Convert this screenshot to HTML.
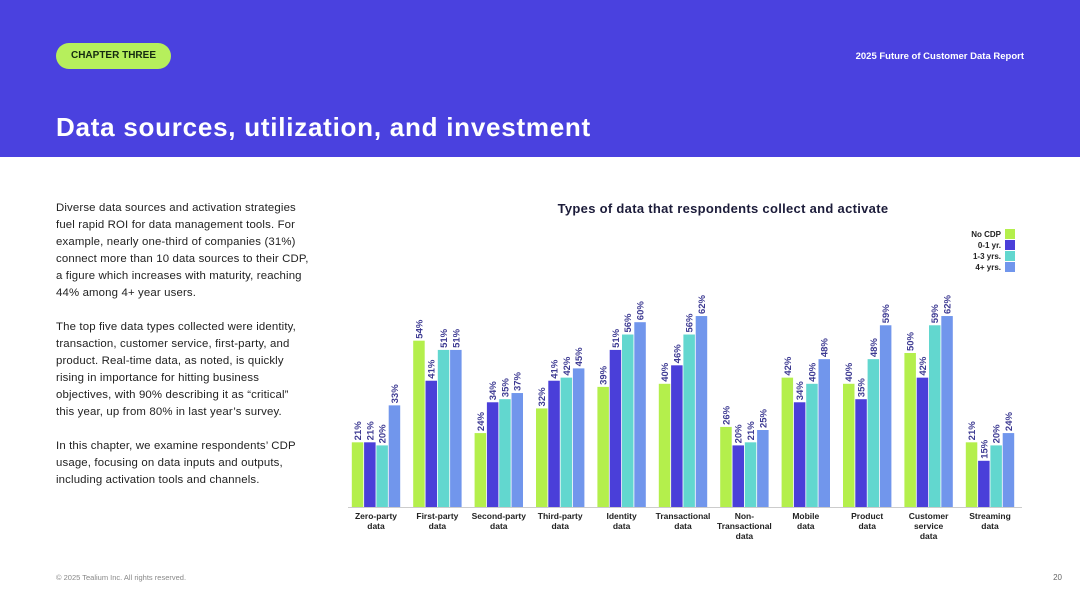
<!DOCTYPE html>
<html><head><meta charset="utf-8"><style>
body{margin:0;width:1080px;height:608px;background:#fff;font-family:"Liberation Sans",sans-serif;position:relative;overflow:hidden}
.hdr{position:absolute;left:0;top:0;width:1080px;height:157px;background:#4a41df}
.pill{position:absolute;left:56px;top:43px;width:115px;height:26px;border-radius:13px;background:#b6ef5c;color:#152b10;font-weight:bold;font-size:10px;line-height:26px;text-align:center}
.rep{position:absolute;right:56px;top:51px;color:#fff;font-weight:bold;font-size:9.5px}
h1{position:absolute;left:56px;top:112px;margin:0;color:#fff;font-size:26px;font-weight:bold;letter-spacing:0.75px;white-space:nowrap}
.body{position:absolute;left:56px;top:200px;width:300px;font-size:11.4px;line-height:17px;color:#222;white-space:nowrap;letter-spacing:0.15px}
.body p{margin:0 0 17px 0}
.foot{position:absolute;left:56px;top:573px;font-size:7.5px;color:#888}
.pg{position:absolute;right:18px;top:573px;font-size:8px;color:#666}
</style></head><body>
<div class="hdr"></div>
<div class="pill">CHAPTER THREE</div>
<div class="rep">2025 Future of Customer Data Report</div>
<h1>Data sources, utilization, and investment</h1>
<div class="body">
<p>Diverse data sources and activation strategies<br>fuel rapid ROI for data management tools. For<br>example, nearly one-third of companies (31%)<br>connect more than 10 data sources to their CDP,<br>a figure which increases with maturity, reaching<br>44% among 4+ year users.</p>
<p>The top five data types collected were identity,<br>transaction, customer service, first-party, and<br>product. Real-time data, as noted, is quickly<br>rising in importance for hitting business<br>objectives, with 90% describing it as “critical”<br>this year, up from 80% in last year’s survey.</p>
<p>In this chapter, we examine respondents’ CDP<br>usage, focusing on data inputs and outputs,<br>including activation tools and channels.</p>
</div>
<div class="foot">© 2025 Tealium Inc. All rights reserved.</div>
<div class="pg">20</div>
<svg id="chart" width="1080" height="608" style="position:absolute;left:0;top:0"></svg>
<script>
const categories=[["Zero-party","data"],["First-party","data"],["Second-party","data"],["Third-party","data"],["Identity","data"],["Transactional","data"],["Non-","Transactional","data"],["Mobile","data"],["Product","data"],["Customer","service","data"],["Streaming","data"]];
const seriesNames=["No CDP","0-1 yr.","1-3 yrs.","4+ yrs."];
const noCdp=[21,54,24,32,39,40,26,42,40,50,21];
const yr01=[21,41,34,41,51,46,20,34,35,42,15];
const yr13=[20,51,35,42,56,56,21,40,48,59,20];
const yr4=[33,51,37,45,60,62,25,48,59,62,24];
const colors=["#b4ef4c","#4a3fd9","#62d7cf","#7196ec"];
const svg=document.getElementById('chart');
const NS="http://www.w3.org/2000/svg";
const base=507, scale=3.08, x0=376, step=61.4, bw=11.5, gap=0.8;
const yOf=v=>base-v*scale;
const xOf=(i,s)=>x0+i*step+(s-2)*(bw+gap)+gap/2;
function mk(t,a){const e=document.createElementNS(NS,t);for(const k in a)e.setAttribute(k,a[k]);svg.appendChild(e);return e;}
const title=mk('text',{x:723,y:213,'text-anchor':'middle','font-size':13,'font-weight':'bold',fill:'#1c1c3a','letter-spacing':0.3});
title.textContent="Types of data that respondents collect and activate";


const all=[noCdp,yr01,yr13,yr4];
all.forEach((ser,s)=>{ser.forEach((v,i)=>{
 const r=mk('rect',{x:xOf(i,s),y:yOf(v),width:bw,height:v*scale,fill:colors[s]});
 
 
 const cx=xOf(i,s)+bw/2+3.5, ty=yOf(v)-2;
 const t=mk('text',{x:cx,y:ty,transform:`rotate(-90 ${cx} ${ty})`,'font-size':9.5,'font-weight':'bold',fill:'#3d3a92'});
 t.textContent=v+'%';
 
 
});});
const ax=mk('line',{x1:348,x2:1022,y1:base+0.5,y2:base+0.5,stroke:'#ccc','stroke-width':1});


categories.forEach((c,i)=>{c.forEach((ln,j)=>{
 const t=mk('text',{x:x0+i*step,y:519+j*10,'text-anchor':'middle','font-size':8.5,'font-weight':'bold',fill:'#222'});
 t.textContent=ln;
 
 
});});
seriesNames.forEach((n,s)=>{
 const y=229+s*11;
 const r=mk('rect',{x:1005,y:y,width:10,height:10,fill:colors[s]});
 
 
 const t=mk('text',{x:1001,y:y+8,'text-anchor':'end','font-size':8,'font-weight':'bold',fill:'#222'});
 t.textContent=n;
 
 
});
</script>
</body></html>
